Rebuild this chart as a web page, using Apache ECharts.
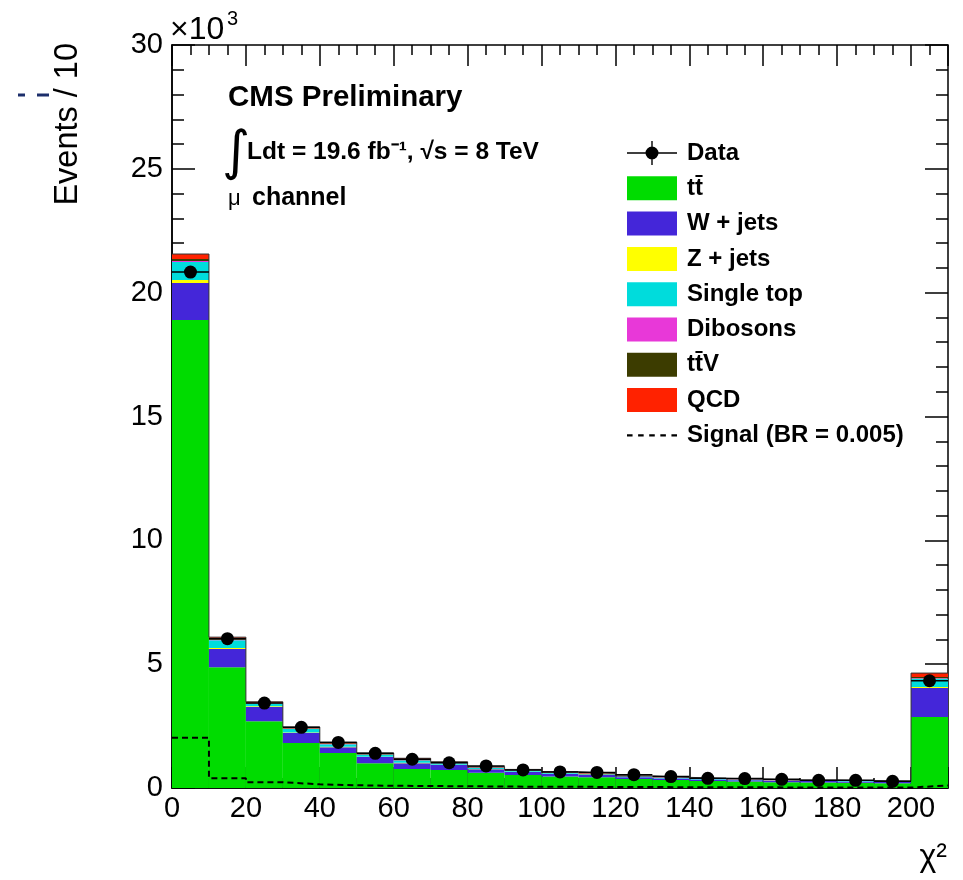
<!DOCTYPE html>
<html><head><meta charset="utf-8">
<script src="https://cdn.jsdelivr.net/npm/echarts@6/dist/echarts.min.js"></script>
<style>html,body{margin:0;padding:0;background:#fff}#c{width:963px;height:880px}</style>
</head><body><div id="c"></div>
<script>
// chi^2 bins (width 10), centers
const binCenters = [5,15,25,35,45,55,65,75,85,95,105,115,125,135,145,155,165,175,185,195,205];
const binHalfWidth = 5;
const xTickLabels = [0,20,40,60,80,100,120,140,160,180,200];
const yTickLabels = [0,5,10,15,20,25,30]; // x10^3

// stacked backgrounds (events / 10)
const ttbar     = [18900,4880,2700,1820,1410,1000,770,730,620,520,460,430,360,320,280,260,230,220,210,190,2870];
const wjets     = [1490,730,570,400,240,250,230,200,140,130,110,90,70,60,60,50,50,60,50,50,1170];
const zjets     = [120,40,30,20,20,10,20,10,10,10,10,10,5,5,5,5,5,5,5,5,40];
const singletop = [730,320,100,140,100,80,90,60,50,50,40,30,30,30,30,30,20,20,20,20,330];
const dibosons  = [40,20,10,10,10,10,10,10,10,10,10,0,5,5,5,5,5,5,5,5,20];
const ttv       = [80,40,30,20,20,20,30,20,10,10,10,10,10,5,5,5,5,5,5,5,50];
const qcd       = [200,60,40,50,50,40,50,30,20,20,20,20,10,5,5,5,5,5,5,5,160];
// data and signal
const dataVals  = [20830,6030,3430,2450,1840,1400,1160,1020,890,730,650,630,540,460,390,380,350,310,310,270,4330];
const signal    = [2030,390,230,150,110,90,80,70,60,50,50,40,40,30,30,30,20,20,20,20,100];

const FONT = '"Liberation Sans", Arial, Helvetica, sans-serif';
const names = {
  tt: 'tt\u0304', w: 'W + jets', z: 'Z + jets', st: 'Single top',
  db: 'Dibosons', ttv: 'tt\u0304V', qcd: 'QCD', data: 'Data', sig: 'Signal (BR = 0.005)'
};
const colors = {
  tt: '#00dc00', w: '#4426d9', z: '#ffff00', st: '#00dcdc',
  db: '#e838d8', ttv: '#3c3c00', qcd: '#ff2200'
};

const stackDefs = [
  ['tt', ttbar], ['w', wjets], ['z', zjets], ['st', singletop],
  ['db', dibosons], ['ttv', ttv], ['qcd', qcd]
];
const barSeries = stackDefs.map(([k, arr]) => ({
  name: names[k], type: 'bar', stack: 'bkg', xAxisIndex: 0, yAxisIndex: 0, z: 2,
  barCategoryGap: '0%', data: arr, itemStyle: { color: colors[k] }, silent: true
}));

// step-line helpers from bin arrays
function stepData(vals) {
  const out = vals.map((v, i) => [binCenters[i] - binHalfWidth, v]);
  out.push([binCenters[binCenters.length - 1] + binHalfWidth, vals[vals.length - 1]]);
  return out;
}
const totals = ttbar.map((_, i) => stackDefs.reduce((s, d) => s + d[1][i], 0));

const dataIcon = 'path://M0,11.3L50,11.3L50,12.7L0,12.7Z M24.3,0L25.7,0L25.7,24L24.3,24Z M31.5,12A6.5,6.5 0 1 1 18.5,12A6.5,6.5 0 1 1 31.5,12Z';
const dashIcon = 'path://M0,0L5,0L5,2L0,2Z M10,0L15,0L15,2L10,2Z M20,0L25,0L25,2L20,2Z M30,0L35,0L35,2L30,2Z M40,0L45,0L45,2L40,2Z';

const tickStyle = { color: '#000', width: 1.5 };
function xAx(pos, interval, len, opts) {
  return Object.assign({
    type: 'value', position: pos, min: 0, max: 210, interval: interval,
    axisLine: { show: false, onZero: false },
    axisTick: { show: true, inside: true, length: len, lineStyle: tickStyle },
    axisLabel: { show: false }, splitLine: { show: false }
  }, opts || {});
}
function yAx(pos, interval, len, opts) {
  return Object.assign({
    type: 'value', position: pos, min: 0, max: 30000, interval: interval,
    axisLine: { show: false, onZero: false },
    axisTick: { show: true, inside: true, length: len, lineStyle: tickStyle },
    axisLabel: { show: false }, splitLine: { show: false }
  }, opts || {});
}

const chart = echarts.init(document.getElementById('c'), null, { renderer: 'canvas' });
chart.setOption({
  animation: false,
  backgroundColor: '#fff',
  grid: { left: 172, right: 15, top: 45, bottom: 92, containLabel: false, outerBoundsMode: 'none',
          show: true, borderColor: '#000', borderWidth: 1.5, backgroundColor: 'transparent' },
  xAxis: [
    { type: 'category', position: 'bottom', data: binCenters, show: false },
    xAx('bottom', 20, 21, {
      axisLine: { show: true, onZero: false, lineStyle: { color: '#000', width: 1.5 } },
      axisLabel: { show: true, margin: 6, fontSize: 29, fontFamily: FONT, color: '#000',
        formatter: v => (xTickLabels.indexOf(v) >= 0 ? String(v) : '') }
    }),
    xAx('bottom', 5, 10),
    xAx('top', 20, 21),
    xAx('top', 5, 10)
  ],
  yAxis: [
    yAx('left', 5000, 23, {
      axisLine: { show: true, onZero: false, lineStyle: { color: '#000', width: 1.5 } },
      axisLabel: { show: true, margin: 9, fontSize: 29, fontFamily: FONT, color: '#000',
        formatter: v => (yTickLabels.indexOf(v / 1000) >= 0 ? String(v / 1000) : '') }
    }),
    yAx('left', 1000, 12),
    yAx('right', 5000, 23),
    yAx('right', 1000, 12)
  ],
  legend: {
    orient: 'vertical', left: 627, top: 141, padding: 0, itemWidth: 50, itemHeight: 24, itemGap: 11.3,
    selectedMode: false, symbolKeepAspect: true,
    textStyle: { fontFamily: FONT, fontWeight: 'bold', fontSize: 24, color: '#000', padding: [0, 0, 0, 5] },
    data: [
      { name: names.data, icon: dataIcon },
      { name: names.tt, icon: 'rect' },
      { name: names.w, icon: 'rect' },
      { name: names.z, icon: 'rect' },
      { name: names.st, icon: 'rect' },
      { name: names.db, icon: 'rect' },
      { name: names.ttv, icon: 'rect' },
      { name: names.qcd, icon: 'rect' },
      { name: names.sig, icon: dashIcon }
    ]
  },
  series: barSeries.concat([
    {
      name: 'outline', type: 'line', step: 'end', xAxisIndex: 1, yAxisIndex: 0, z: 3,
      data: stepData(totals), symbol: 'none', silent: true,
      lineStyle: { color: '#333', width: 1 }
    },
    {
      name: names.sig, type: 'line', step: 'end', xAxisIndex: 1, yAxisIndex: 0, z: 4,
      data: stepData(signal), symbol: 'none', silent: true,
      itemStyle: { color: '#000' },
      lineStyle: { color: '#000', width: 2, type: [6, 4] }
    },
    {
      name: names.data, type: 'custom', xAxisIndex: 1, yAxisIndex: 0, z: 5, silent: true,
      itemStyle: { color: '#000' },
      data: dataVals.map((v, i) => [binCenters[i], v]),
      encode: { x: 0, y: 1 },
      renderItem: function (params, api) {
        const x = api.value(0), y = api.value(1);
        const p = api.coord([x, y]);
        const l = api.coord([x - binHalfWidth, y]);
        const r = api.coord([x + binHalfWidth, y]);
        return { type: 'group', children: [
          { type: 'line', shape: { x1: l[0], y1: l[1], x2: r[0], y2: r[1] }, style: { stroke: '#000', lineWidth: 1.5 } },
          { type: 'circle', shape: { cx: p[0], cy: p[1], r: 6.5 }, style: { fill: '#000' } }
        ] };
      }
    }
  ]),
  graphic: [
    { type: 'text', x: 170, y: 30, style: { text: '\u00d710', fontSize: 32, fontFamily: FONT, fill: '#000', verticalAlign: 'middle', align: 'left' } },
    { type: 'text', x: 227, y: 19, style: { text: '3', fontSize: 20, fontFamily: FONT, fill: '#000', verticalAlign: 'middle', align: 'left' } },
    { type: 'text', x: 68, y: 43, rotation: Math.PI / 2, style: { text: 'Events / 10', fontSize: 32.5, fontFamily: FONT, fill: '#000', align: 'right', verticalAlign: 'middle' } },
    { type: 'text', x: 947, y: 857, style: { text: '\u03c7\u00b2', fontSize: 32, fontFamily: FONT, fill: '#000', align: 'right', verticalAlign: 'middle' } },
    { type: 'text', x: 228, y: 98, style: { text: 'CMS Preliminary', fontSize: 29.5, fontWeight: 'bold', fontFamily: FONT, fill: '#000', verticalAlign: 'middle' } },
    { type: 'text', x: 222, y: 155, style: { text: '\u222b', fontSize: 54, fontFamily: '"DejaVu Sans", sans-serif', fill: '#000', verticalAlign: 'middle' } },
    { type: 'text', x: 247, y: 152, style: { text: 'Ldt = 19.6 fb\u207b\u00b9, \u221as = 8 TeV', fontSize: 24.5, fontWeight: 'bold', fontFamily: FONT, fill: '#000', verticalAlign: 'middle' } },
    { type: 'text', x: 228, y: 199, style: { text: '\u03bc', fontSize: 22, fontFamily: FONT, fill: '#000', verticalAlign: 'middle' } },
    { type: 'text', x: 252, y: 198, style: { text: 'channel', fontSize: 25, fontWeight: 'bold', fontFamily: FONT, fill: '#000', verticalAlign: 'middle' } },
    { type: 'line', shape: { x1: 18, y1: 95, x2: 25, y2: 95 }, style: { stroke: '#1c2e6b', lineWidth: 3 } },
    { type: 'line', shape: { x1: 37, y1: 95, x2: 49, y2: 95 }, style: { stroke: '#1c2e6b', lineWidth: 3 } }
  ]
});
</script>
</body></html>
